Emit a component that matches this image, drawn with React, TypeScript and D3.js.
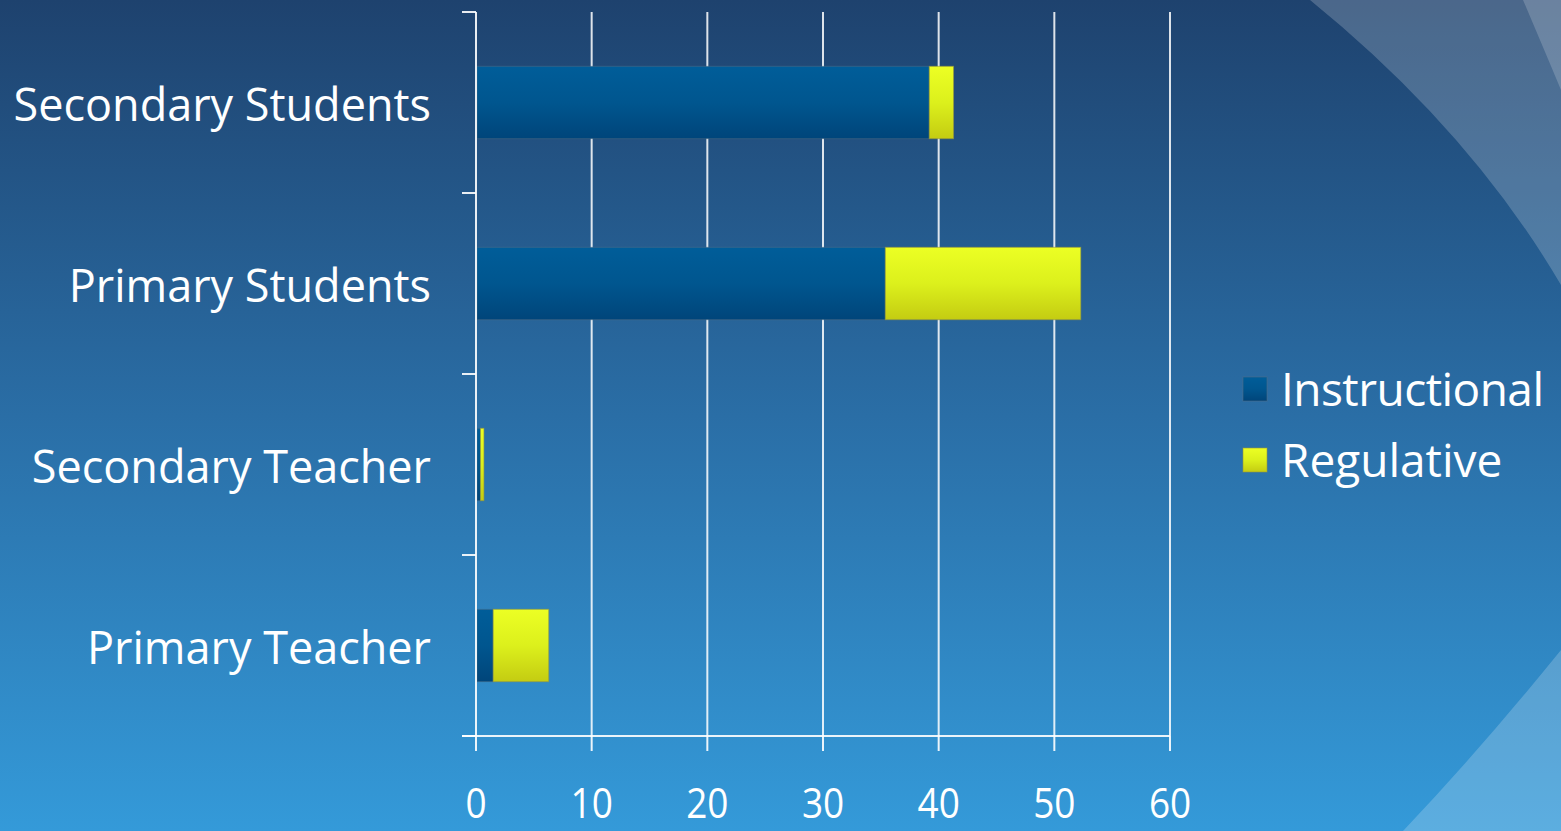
import React, { useRef, useEffect } from 'react';
import * as d3 from 'd3';

// chart data
const categories = ['Secondary Students', 'Primary Students', 'Secondary Teacher', 'Primary Teacher'];
const instructional = [39.1, 35.3, 0.3, 1.4];
const regulative = [2.1, 16.9, 0.3, 4.8];
const seriesNames = ['Instructional', 'Regulative'];
const xTicks = [0, 10, 20, 30, 40, 50, 60];

const W = 1561;
const H = 831;

const App = () => {
  const svgRef = useRef<SVGSVGElement>(null);

  useEffect(() => {
    const svg = d3.select(svgRef.current)
      .attr('width', W)
      .attr('height', H);
    svg.selectAll('*').remove();

    const defs = svg.append('defs');
    const bg = defs.append('linearGradient').attr('id', 'bg').attr('x1', 0).attr('y1', 0).attr('x2', 0).attr('y2', 1);
    bg.append('stop').attr('offset', '0%').attr('stop-color', '#1e426e');
    bg.append('stop').attr('offset', '50%').attr('stop-color', '#2a6ea6');
    bg.append('stop').attr('offset', '100%').attr('stop-color', '#349ad9');

    const gBlue = defs.append('linearGradient').attr('id', 'gBlue').attr('x1', 0).attr('y1', 0).attr('x2', 0).attr('y2', 1);
    gBlue.append('stop').attr('offset', '0%').attr('stop-color', '#005d99');
    gBlue.append('stop').attr('offset', '50%').attr('stop-color', '#00568f');
    gBlue.append('stop').attr('offset', '100%').attr('stop-color', '#00457a');

    const gYel = defs.append('linearGradient').attr('id', 'gYel').attr('x1', 0).attr('y1', 0).attr('x2', 0).attr('y2', 1);
    gYel.append('stop').attr('offset', '0%').attr('stop-color', '#ecff24');
    gYel.append('stop').attr('offset', '50%').attr('stop-color', '#dcf01c');
    gYel.append('stop').attr('offset', '100%').attr('stop-color', '#c4cc12');

    // background + decorative swooshes
    svg.append('rect').attr('width', W).attr('height', H).attr('fill', 'url(#bg)');
    svg.append('path')
      .attr('d', `M1310,0 Q1470,130 ${W},285 L${W},0 Z`)
      .attr('fill', '#ffffff').attr('opacity', 0.2);
    svg.append('path')
      .attr('d', `M1523,0 Q1540,40 ${W},90 L${W},0 Z`)
      .attr('fill', '#ffffff').attr('opacity', 0.18);
    svg.append('path')
      .attr('d', `M1403,${H} Q1480,750 ${W},650 L${W},${H} Z`)
      .attr('fill', '#ffffff').attr('opacity', 0.2);

    const left = 476, right = 1170, top = 12, bottom = 736;
    const x = d3.scaleLinear().domain([0, 60]).range([left, right]);
    const y = d3.scaleBand<string>().domain(categories).range([top, bottom])
      .paddingInner(0.6).paddingOuter(0.3);

    const font = "'Open Sans', 'DejaVu Sans', sans-serif";

    // vertical grid lines
    svg.append('g').selectAll('line').data(xTicks.slice(1)).join('line')
      .attr('x1', d => x(d)).attr('x2', d => x(d))
      .attr('y1', top).attr('y2', bottom)
      .attr('stroke', '#ffffff').attr('stroke-opacity', 0.85).attr('stroke-width', 2);

    // stacked bars
    const stackData = categories.map((c, i) => ({ cat: c, Instructional: instructional[i], Regulative: regulative[i] }));
    const stack = d3.stack<any>().keys(seriesNames)(stackData);
    const fills = ['url(#gBlue)', 'url(#gYel)'];
    stack.forEach((layer, li) => {
      svg.append('g').selectAll('rect').data(layer).join('rect')
        .attr('x', d => x(d[0]) + 1)
        .attr('y', d => y(d.data.cat)!)
        .attr('width', d => Math.max(0, x(d[1]) - x(d[0])))
        .attr('height', y.bandwidth())
        .attr('fill', fills[li])
        .attr('stroke', li === 0 ? 'rgba(90,110,130,0.45)' : 'rgba(150,150,60,0.6)')
        .attr('stroke-width', 1);
    });

    // axes
    const ax = svg.append('g').attr('stroke', '#ffffff').attr('stroke-width', 2).attr('stroke-opacity', 0.9);
    ax.append('line').attr('x1', left).attr('x2', left).attr('y1', top).attr('y2', bottom);
    ax.append('line').attr('x1', left - 14).attr('x2', right).attr('y1', bottom).attr('y2', bottom);
    const yTickPos = categories.map(c => y(c)! - y.step() * 0.3).concat([bottom]);
    ax.selectAll('.yt').data(yTickPos).join('line')
      .attr('x1', left - 14).attr('x2', left).attr('y1', d => d).attr('y2', d => d);
    ax.selectAll('.xt').data(xTicks).join('line')
      .attr('x1', d => x(d)).attr('x2', d => x(d)).attr('y1', bottom).attr('y2', bottom + 15);

    // category labels
    svg.append('g').selectAll('text').data(categories).join('text')
      .attr('x', 431)
      .attr('y', d => y(d)! + y.bandwidth() / 2)
      .attr('dy', '0.4em')
      .attr('text-anchor', 'end')
      .attr('fill', '#ffffff')
      .attr('font-family', font)
      .attr('font-size', 45)
      .text(d => d);

    // x tick labels (condensed look)
    svg.append('g').selectAll('text').data(xTicks).join('text')
      .attr('transform', d => `translate(${x(d)},818) scale(0.88,1)`)
      .attr('text-anchor', 'middle')
      .attr('fill', '#ffffff')
      .attr('font-family', font)
      .attr('font-size', 42)
      .text(d => d);

    // legend
    const lg = svg.append('g').attr('transform', 'translate(1243,377)');
    seriesNames.forEach((s, i) => {
      const row = lg.append('g').attr('transform', `translate(0,${i * 71})`);
      row.append('rect').attr('width', 24).attr('height', 24).attr('fill', fills[i])
        .attr('stroke', i === 0 ? 'rgba(90,110,130,0.5)' : 'rgba(150,150,60,0.6)');
      row.append('text')
        .attr('x', 38).attr('y', 12).attr('dy', '0.38em')
        .attr('fill', '#ffffff')
        .attr('font-family', font)
        .attr('font-size', 46)
        .attr('textLength', i === 0 ? 263 : null)
        .text(s);
    });
  }, []);

  return (
    <div style={{ position: 'absolute', left: 0, top: 0 }}>
      <svg ref={svgRef} style={{ display: 'block' }}></svg>
    </div>
  );
};

export default App;
